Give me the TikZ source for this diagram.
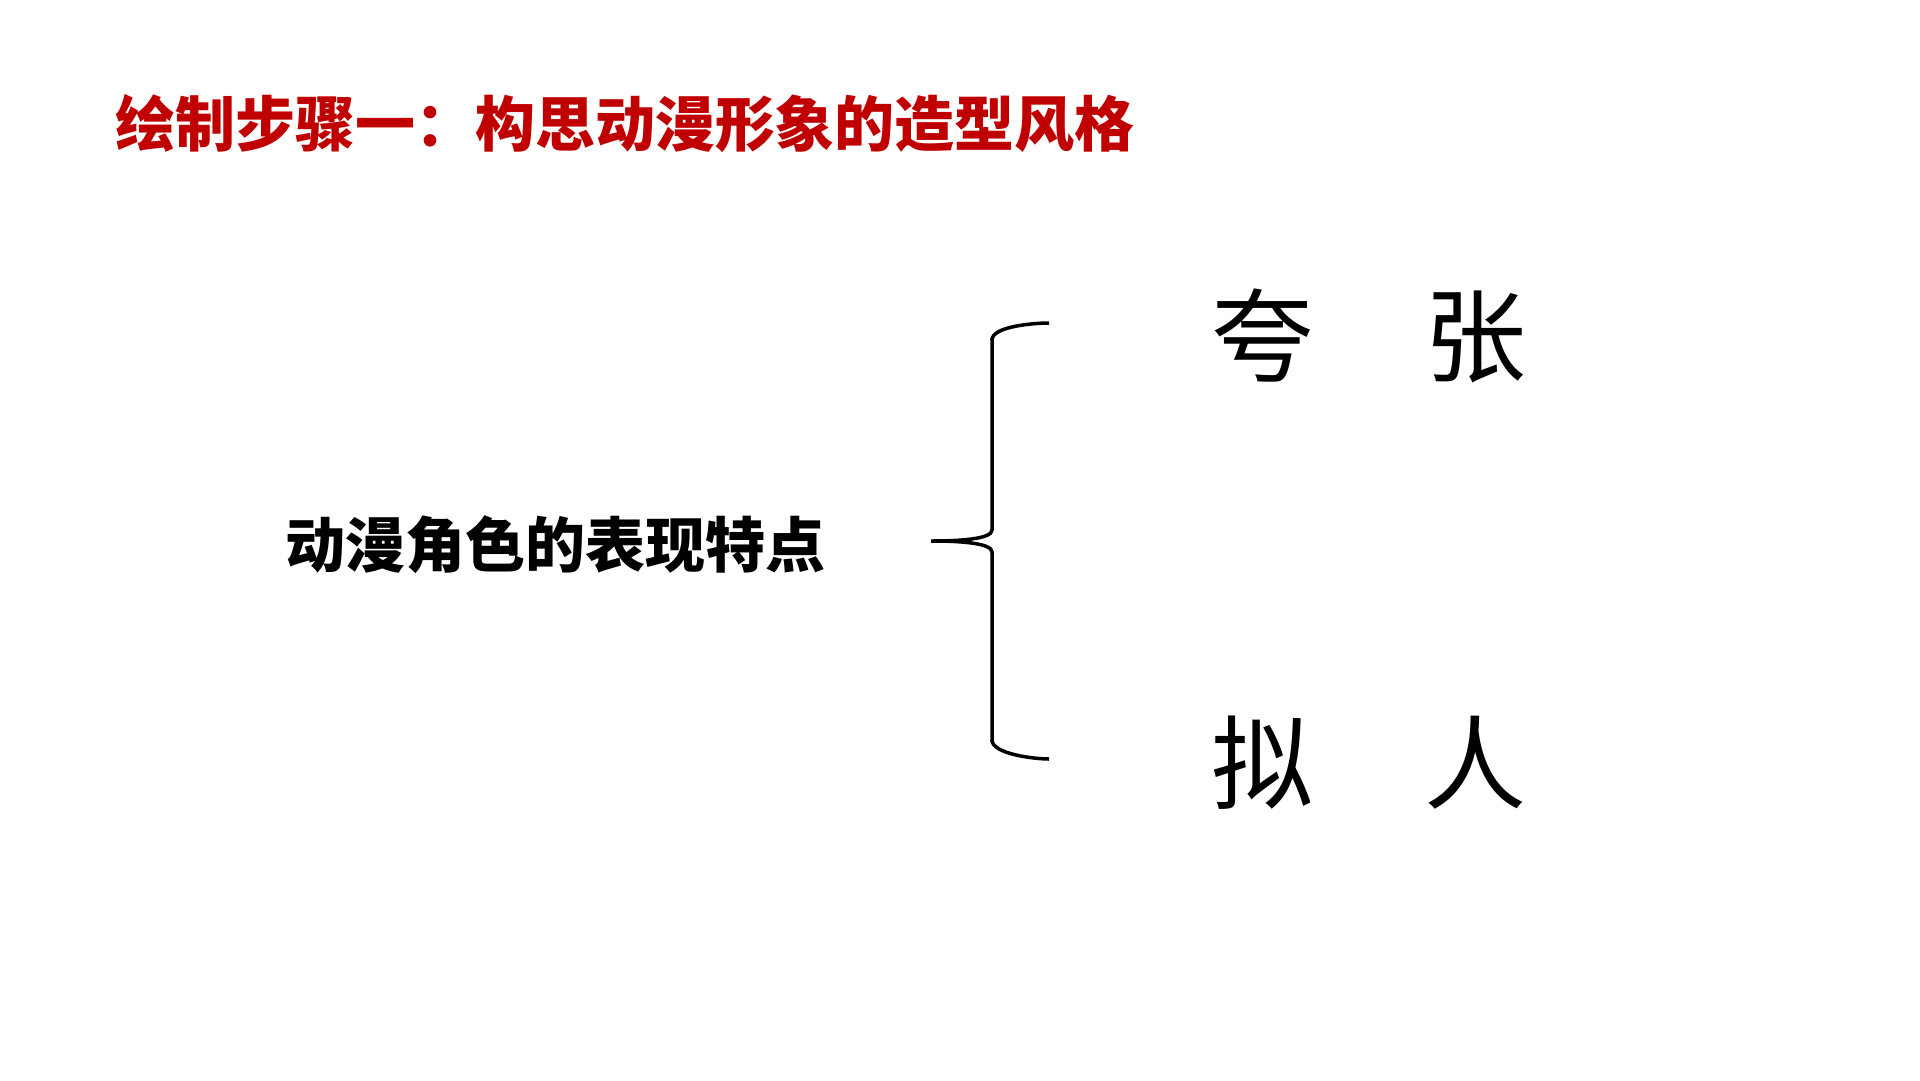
\documentclass[tikz,border=0pt]{standalone}
\usepackage{fontspec}
\usepackage{tikz}
\newfontfamily\cjk{Noto Sans CJK SC}
\definecolor{titlered}{RGB}{192,0,0}
\def\big#1{{\fontsize{102}{110}\selectfont #1}}
\def\mid#1{{\fontsize{60}{68}\selectfont\bfseries #1}}
\def\gap{\hspace{111pt}}

\begin{document}
\begin{tikzpicture}[x=1pt,y=-1pt,every node/.style={inner sep=0pt,font=\cjk}]
\useasboundingbox (0,0) rectangle (1920,1080);
       \node [text=titlered] at (625,124) (title) {\mid{绘制步骤一：构思动漫形象的造型风格}};
           \node at (555,545) (traits) {\mid{动漫角色的表现特点}};
               \node at (1369,336) (kuazhang) {\big{夸\gap 张}};
               \node at (1369,763) (niren) {\big{拟\gap 人}};
%
%
\coordinate (tip) at (931,541);
\coordinate (top) at (1049,323);
\coordinate (bot) at (1049,759);
\path[-,line width=3.5pt] (top) edge [out=180,in=90,looseness=.6] (992,340);
\draw[line width=3.5pt] (992,338) -- (992,530) .. controls (992,539) and (960,541) .. (tip)
      .. controls (960,541) and (992,543) .. (992,552) -- (992,742);
\path[-,line width=3.5pt] (992,740) edge [out=-90,in=180,looseness=.6] (bot);
\end{tikzpicture}
\end{document}
